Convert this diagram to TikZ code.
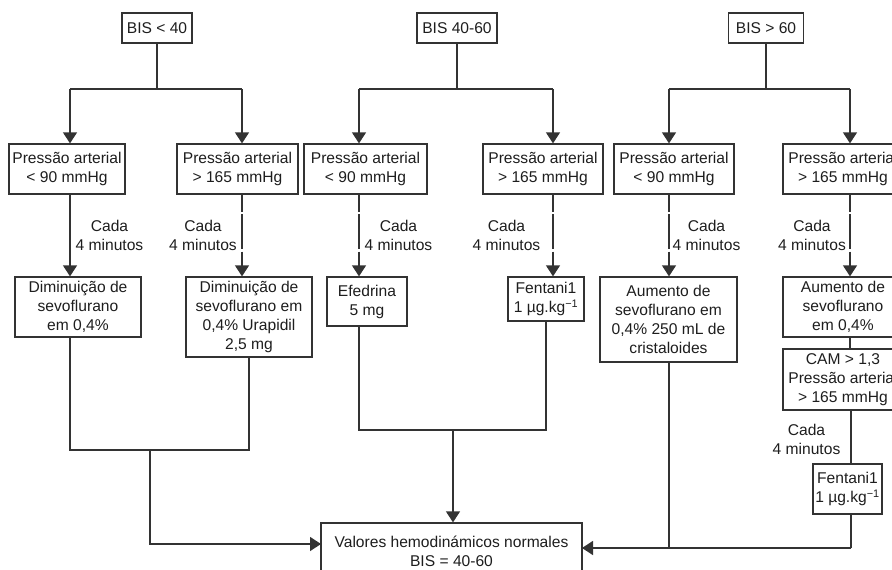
\documentclass[tikz,border=0pt]{standalone}
\usepackage{fontspec}
\setmainfont{Liberation Sans}
\usetikzlibrary{arrows.meta}
\definecolor{lc}{HTML}{333333}
\definecolor{tc}{HTML}{1E1E1E}
\begin{document}
\begin{tikzpicture}[x=1pt,y=-1pt,
  box/.style={draw=lc,line width=1.3pt,inner sep=0pt,align=center,font=\fontsize{15.6}{19}\selectfont,text=tc},
  lbl/.style={inner sep=0pt,align=center,font=\fontsize{15.6}{19}\selectfont,text=tc},
  conn/.style={draw=lc,line width=1.3pt},
  arr/.style={conn,-{Triangle[width=14pt,length=11pt]}},
  gapped/.style={dash pattern=on 17pt off 2.5pt on 35pt off 2.5pt on 200pt off 0pt}]
\useasboundingbox (0,0) rectangle (892,570);
\clip (0,0) rectangle (892,570);
\fill[white] (0,0) rectangle (892,570);
% top boxes
\node[box,minimum width=70pt,minimum height=30pt] (b1) at (157,28) {BIS < 40};
\node[box,minimum width=80pt,minimum height=30pt] (b2) at (457,28) {BIS 40-60};
\node[box,minimum width=75pt,minimum height=30pt] (b3) at (766,28) {BIS > 60};
% row 1
\node[box,minimum width=116pt,minimum height=50pt] (p1) at (67,169) {Pressão arterial\\< 90 mmHg};
\node[box,minimum width=121pt,minimum height=50pt] (p2) at (237.5,169) {Pressão arterial\\> 165 mmHg};
\node[box,minimum width=123pt,minimum height=50pt] (p3) at (365.5,169) {Pressão arterial\\< 90 mmHg};
\node[box,minimum width=120pt,minimum height=50pt] (p4) at (543,169) {Pressão arterial\\> 165 mmHg};
\node[box,minimum width=120pt,minimum height=50pt] (p5) at (674,169) {Pressão arterial\\< 90 mmHg};
\node[box,minimum width=120pt,minimum height=50pt] (p6) at (843,169) {Pressão arterial\\> 165 mmHg};
% row 2
\node[box,minimum width=126pt,minimum height=60pt] (d1) at (78,307) {Diminuição de\\sevoflurano\\em 0,4\%};
\node[box,minimum width=126pt,minimum height=80pt] (d2) at (249,317) {Diminuição de\\sevoflurano em\\0,4\% Urapidil\\2,5 mg};
\node[box,minimum width=80pt,minimum height=49pt] (e1) at (367,301.5) {Efedrina\\5 mg};
\node[box,minimum width=76pt,minimum height=44pt] (f1) at (546,299) {Fentani1\\1 µg.kg\textsuperscript{−1}};
\node[box,minimum width=137pt,minimum height=85pt] (a1) at (668.5,319.5) {Aumento de\\sevoflurano em\\0,4\% 250 mL de\\cristaloides};
\node[box,minimum width=120pt,minimum height=60pt] (a2) at (843,307) {Aumento de\\sevoflurano\\em 0,4\%};
\node[box,minimum width=120pt,minimum height=61pt] (cam) at (843,379.5) {CAM > 1,3\\Pressão arterial\\> 165 mmHg};
\node[box,minimum width=69pt,minimum height=50pt] (f2) at (847.5,489) {Fentani1\\1 µg.kg\textsuperscript{−1}};
\node[box,minimum width=261pt,minimum height=56pt] (fin) at (451.5,551) {Valores hemodinámicos normales\\BIS = 40-60};
% labels
\node[lbl] (c1) at (109.5,235) {Cada\\4 minutos};
\node[lbl] (c2) at (203,235) {Cada\\4 minutos};
\node[lbl] (c3) at (398.5,235) {Cada\\4 minutos};
\node[lbl] (c4) at (506.5,235) {Cada\\4 minutos};
\node[lbl] (c5) at (706.5,235) {Cada\\4 minutos};
\node[lbl] (c6) at (812,235) {Cada\\4 minutos};
\node[lbl] (c7) at (806.5,439) {Cada\\4 minutos};
% fork coordinates
\coordinate (l1) at (70,89);  \coordinate (r1) at (242,89);
\coordinate (l2) at (359,89); \coordinate (r2) at (553,89);
\coordinate (l3) at (669,89); \coordinate (r3) at (850,89);
\draw[conn] (b1.south) -- (b1.south |- l1);
\draw[conn] (b2.south) -- (b2.south |- l2);
\draw[conn] (b3.south) -- (b3.south |- l3);
\draw[conn] (l1) -- (r1);
\draw[conn] (l2) -- (r2);
\draw[conn] (l3) -- (r3);
\draw[arr] (l1) -- (l1 |- p1.north);
\draw[arr] (r1) -- (r1 |- p2.north);
\draw[arr] (l2) -- (l2 |- p3.north);
\draw[arr] (r2) -- (r2 |- p4.north);
\draw[arr] (l3) -- (l3 |- p5.north);
\draw[arr] (r3) -- (r3 |- p6.north);
% row1 -> row2
\draw[arr] (l1 |- p1.south) -- (l1 |- d1.north);
\draw[arr,gapped] (r1 |- p2.south) -- (r1 |- d2.north);
\draw[arr,gapped] (l2 |- p3.south) -- (l2 |- e1.north);
\draw[arr,gapped] (r2 |- p4.south) -- (r2 |- f1.north);
\draw[arr,gapped] (l3 |- p5.south) -- (l3 |- a1.north);
\draw[arr,gapped] (r3 |- p6.south) -- (r3 |- a2.north);
% right column chain
\coordinate (m3) at (851,548);
\coordinate (fr) at (582,548);
\draw[conn] (r3 |- a2.south) -- (r3 |- cam.north);
\draw[conn] (m3 |- cam.south) -- (m3 |- f2.north);
% merges
\coordinate (m1) at (150,450);
\coordinate (fl) at (321,544);
\draw[conn] (l1 |- d1.south) -- (l1 |- m1) -- (d2.south |- m1) -- (d2.south);
\draw[arr] (m1) |- (fl);
\coordinate (m2) at (453,430);
\draw[conn] (l2 |- e1.south) -- (l2 |- m2) -- (f1.south |- m2) -- (f1.south);
\draw[arr] (m2) -- (m2 |- fin.north);
\draw[conn] (l3 |- a1.south) -- (l3 |- fr);
\draw[conn] (m3 |- f2.south) -- (m3);
\draw[arr] (m3) -- (fr);
\end{tikzpicture}
\end{document}
